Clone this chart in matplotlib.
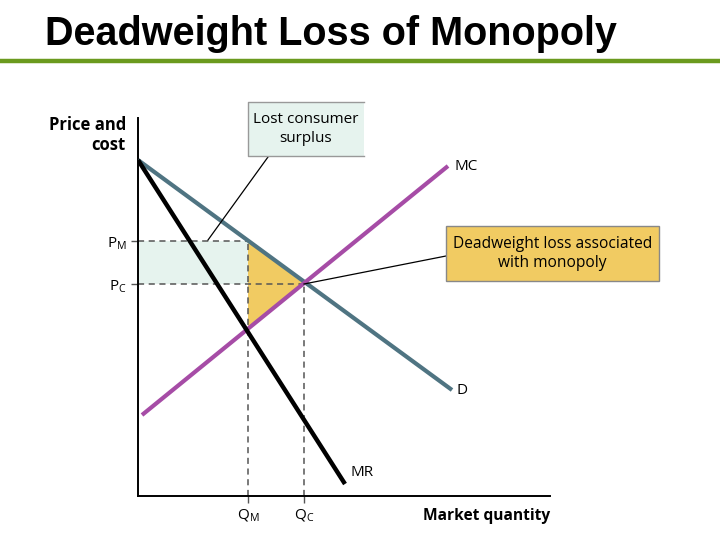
import matplotlib.pyplot as plt
from matplotlib.patches import Rectangle, Polygon
import numpy as np

# Curves (quantity, price) in diagram units
demand_q = [0.0, 31.4]
demand_p = [33.6, 10.6]
mr_q = [0.0, 20.7]
mr_p = [33.6, 1.2]
mc_q = [0.4, 31.0]
mc_p = [8.1, 33.0]

q_m, q_c = 11.0, 16.6
p_m, p_c = 25.5, 21.2
mc_at_qm = 16.6

title = "Deadweight Loss of Monopoly"
box_lost = "Lost consumer\nsurplus"
box_dwl = "Deadweight loss associated\nwith monopoly"

D_COLOR = "#4f7482"
MC_COLOR = "#a64ca6"
DWL_COLOR = "#f1cb62"
LCS_COLOR = "#e6f3ee"
FONT = "Open Sans"

fig = plt.figure(figsize=(7.2, 5.4), dpi=100)
fig.text(45 / 720, 1 - 34 / 540, title, fontsize=28.5, fontweight="bold",
         family="Liberation Sans", va="center", ha="left")
fig.add_artist(plt.Line2D([0, 1], [1 - 61 / 540] * 2, color="#6b9a1e", lw=3.2))

ax = fig.add_axes([138 / 720, 44 / 540, 412 / 720, 378 / 540])
ax.set_xlim(0, 41.2)
ax.set_ylim(0, 37.8)
for s in ["top", "right"]:
    ax.spines[s].set_visible(False)
for s in ["left", "bottom"]:
    ax.spines[s].set_linewidth(1.4)
ax.set_xticks([q_m, q_c])
ax.set_xticklabels(["Q$_\\mathregular{M}$", "Q$_\\mathregular{C}$"], family=FONT, fontsize=11)
ax.set_yticks([p_m, p_c])
ax.set_yticklabels(["P$_\\mathregular{M}$", "P$_\\mathregular{C}$"], family=FONT, fontsize=11)
ax.tick_params(length=5, width=1, color="#555555", pad=3)

# lost consumer surplus rectangle and deadweight loss triangle
ax.add_patch(Rectangle((0, p_c), q_m, p_m - p_c, color=LCS_COLOR, lw=0, zorder=1))
ax.add_patch(Polygon([(q_m, p_m), (q_c, p_c), (q_m, mc_at_qm)], closed=True,
                     color=DWL_COLOR, lw=0, zorder=1))

# dashed guides
dash = dict(color="#555555", lw=1.1, ls=(0, (4, 3)), zorder=2)
ax.plot([0, q_m], [p_m, p_m], **dash)
ax.plot([0, q_c], [p_c, p_c], **dash)
ax.plot([q_m, q_m], [0, p_m], **dash)
ax.plot([q_c, q_c], [0, p_c], **dash)

ax.plot(demand_q, demand_p, color=D_COLOR, lw=3, solid_capstyle="butt", zorder=3)
ax.plot(mc_q, mc_p, color=MC_COLOR, lw=3, solid_capstyle="butt", zorder=3)
ax.plot(mr_q, mr_p, color="black", lw=3.2, solid_capstyle="butt", zorder=4)

ax.text(demand_q[1] + 0.4, demand_p[1], "D", family=FONT, fontsize=11, va="center")
ax.text(mc_q[1] + 0.7, mc_p[1], "MC", family=FONT, fontsize=11, va="center")
ax.text(mr_q[1] + 0.5, mr_p[1] + 1.2, "MR", family=FONT, fontsize=11, va="center")

# callout boxes
ax.plot([7.0, 13.0], [p_m + 0.1, 33.9], color="black", lw=0.9, clip_on=False, zorder=5)
ax.add_patch(Rectangle((11.0, 34.0), 11.6, 5.4, facecolor=LCS_COLOR, lw=0,
                       clip_on=False, zorder=5))
# box edge drawn on three sides only (right side open, as in the source)
ax.plot([22.6, 11.0, 11.0, 22.6], [39.4, 39.4, 34.0, 34.0], color="#999999", lw=1,
        clip_on=False, zorder=5)
ax.text(16.8, 36.7, box_lost, family=FONT, fontsize=11, ha="center", va="center",
        linespacing=1.3, clip_on=False, zorder=6)

ax.plot([q_c, 30.8], [p_c, 24.0], color="black", lw=0.9, zorder=5)
ax.add_patch(Rectangle((30.8, 21.5), 21.3, 5.5, facecolor=DWL_COLOR, edgecolor="#888888",
                       lw=1, clip_on=False, zorder=5))
ax.text(41.45, 24.25, box_dwl, family=FONT, fontsize=11.2, ha="center", va="center",
        linespacing=1.3, clip_on=False, zorder=6)

fig.text(126 / 720, 1 - 135 / 540, "Price and\ncost", family=FONT, fontsize=12,
         fontweight="bold", ha="right", va="center", linespacing=1.15)
fig.text(550 / 720, 1 - 516 / 540, "Market quantity", family=FONT, fontsize=11.2,
         fontweight="bold", ha="right", va="center")

fig.savefig("out.png", dpi=100)
